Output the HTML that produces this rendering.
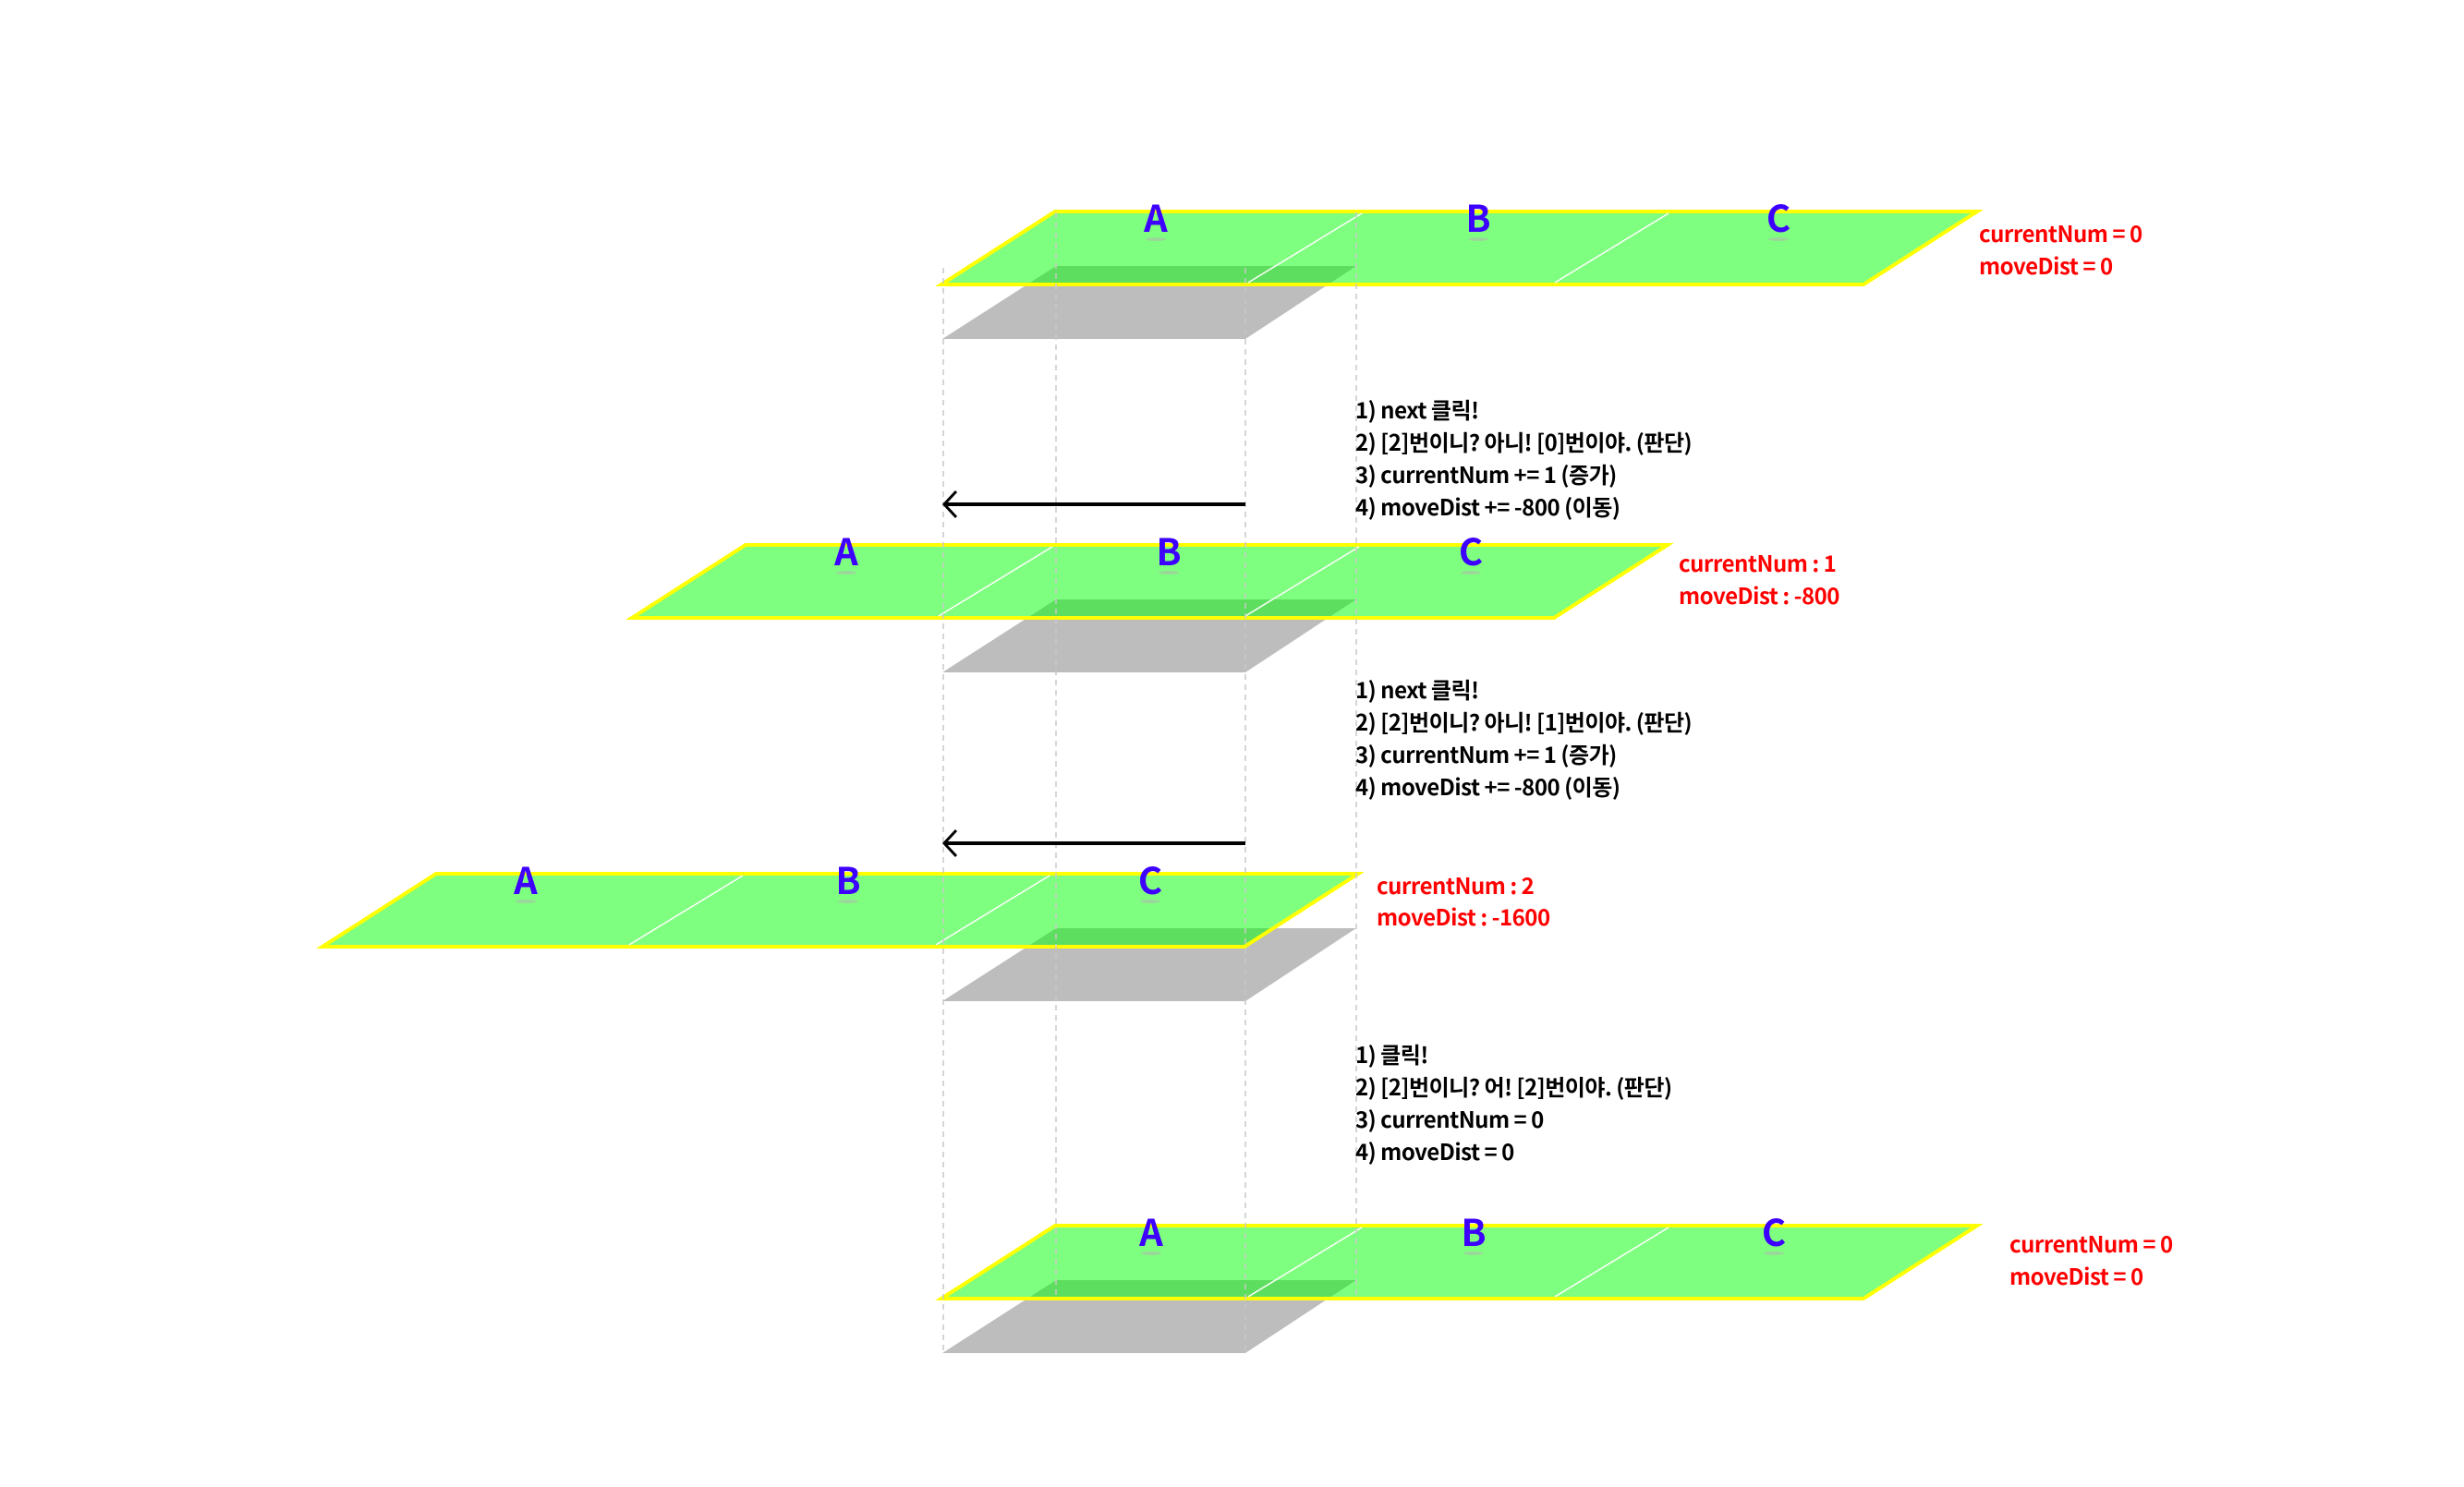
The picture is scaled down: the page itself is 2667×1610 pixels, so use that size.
<!DOCTYPE html>
<html><head><meta charset="utf-8"><style>
html,body{margin:0;padding:0;background:#fff;}
svg text{font-family:"Noto Sans CJK KR","Liberation Sans",sans-serif;font-weight:bold;}
</style></head><body>
<svg width="2667" height="1605" viewBox="0 0 2667 1605" xmlns="http://www.w3.org/2000/svg">
<defs>
<g id="shadow"><polygon points="1143,0 1468,0 1348,79 1020,79" fill="#bdbdbd"/></g>
<g id="plane">
<polygon points="1142,0 2140,0 2017,79 1019,79" fill="#00ff00" fill-opacity="0.5" stroke="#ffff00" stroke-width="4"/>
<line x1="1474" y1="2" x2="1351" y2="77" stroke="#fff" stroke-width="1.5"/>
<line x1="1806" y1="2" x2="1683" y2="77" stroke="#fff" stroke-width="1.5"/>
</g>
</defs>
<use href="#shadow" y="288"/>
<use href="#shadow" y="649"/>
<use href="#shadow" y="1005"/>
<use href="#shadow" y="1386"/>

<use href="#plane" x="0" y="229"/>
<use href="#plane" x="-335" y="590"/>
<use href="#plane" x="-670" y="946"/>
<use href="#plane" x="0" y="1327"/>

<g stroke="#c8c8c8" stroke-width="1.5" stroke-dasharray="6,5">
<line x1="1021" y1="290" x2="1021" y2="1465"/>
<line x1="1143" y1="230" x2="1143" y2="1405"/>
<line x1="1348" y1="290" x2="1348" y2="1465"/>
<line x1="1468" y1="230" x2="1468" y2="1405"/>
</g>

<g stroke="#000" stroke-width="4" fill="none">
<line x1="1348" y1="546" x2="1024" y2="546"/>
<polyline points="1035,532 1022,546 1035,560" stroke-width="3"/>
<line x1="1348" y1="913" x2="1024" y2="913"/>
<polyline points="1035,899 1022,913 1035,927" stroke-width="3"/>
</g>

<g fill="#3d00ff" font-size="40" text-anchor="middle">
<text x="1251" y="251">A</text><text x="1600" y="251">B</text><text x="1925" y="251">C</text>
<text x="916" y="612">A</text><text x="1265" y="612">B</text><text x="1592" y="612">C</text>
<text x="569" y="968">A</text><text x="918" y="968">B</text><text x="1245" y="968">C</text>
<text x="1246" y="1349">A</text><text x="1595" y="1349">B</text><text x="1920" y="1349">C</text>
</g>
<g fill="#9bd79b">
<ellipse cx="1251" cy="259" rx="11" ry="2"/><ellipse cx="1600" cy="259" rx="11" ry="2"/><ellipse cx="1925" cy="259" rx="11" ry="2"/>
<ellipse cx="916" cy="620" rx="11" ry="2"/><ellipse cx="1265" cy="620" rx="11" ry="2"/><ellipse cx="1592" cy="620" rx="11" ry="2"/>
<ellipse cx="569" cy="976" rx="11" ry="2"/><ellipse cx="918" cy="976" rx="11" ry="2"/><ellipse cx="1245" cy="976" rx="11" ry="2"/>
<ellipse cx="1246" cy="1357" rx="11" ry="2"/><ellipse cx="1595" cy="1357" rx="11" ry="2"/><ellipse cx="1920" cy="1357" rx="11" ry="2"/>
</g>

<g fill="#ff0000" font-size="24" letter-spacing="-0.5">
<text x="2142" y="262">currentNum = 0</text><text x="2142" y="297">moveDist = 0</text>
<text x="1817" y="619">currentNum : 1</text><text x="1817" y="654">moveDist : -800</text>
<text x="1490" y="968">currentNum : 2</text><text x="1490" y="1002">moveDist : -1600</text>
<text x="2175" y="1356">currentNum = 0</text><text x="2175" y="1391">moveDist = 0</text>
</g>

<g fill="#000" font-size="24" letter-spacing="-0.5">
<text x="1467" y="453">1) next 클릭!</text>
<text x="1467" y="488">2) [2]번이니? 아니! [0]번이야. (판단)</text>
<text x="1467" y="523">3) currentNum += 1 (증가)</text>
<text x="1467" y="558">4) moveDist += -800 (이동)</text>
<text x="1467" y="756">1) next 클릭!</text>
<text x="1467" y="791">2) [2]번이니? 아니! [1]번이야. (판단)</text>
<text x="1467" y="826">3) currentNum += 1 (증가)</text>
<text x="1467" y="861">4) moveDist += -800 (이동)</text>
<text x="1467" y="1151">1) 클릭!</text>
<text x="1467" y="1186">2) [2]번이니? 어! [2]번이야. (판단)</text>
<text x="1467" y="1221">3) currentNum = 0</text>
<text x="1467" y="1256">4) moveDist = 0</text>
</g>
</svg>
</body></html>
